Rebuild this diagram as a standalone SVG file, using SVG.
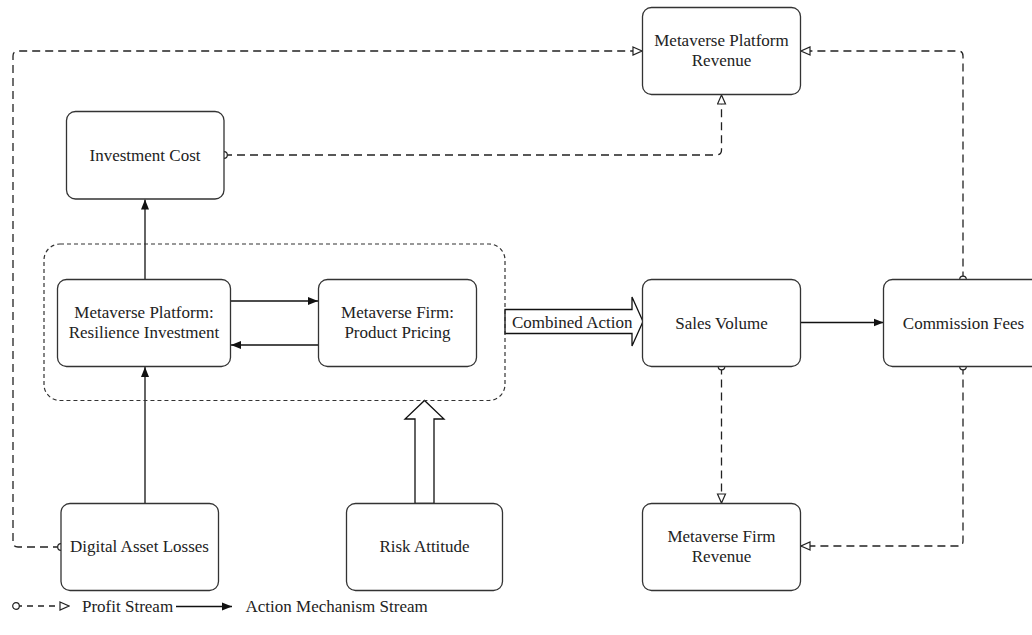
<svg xmlns="http://www.w3.org/2000/svg" width="1032" height="635" viewBox="0 0 1032 635">
<style>
.box{fill:#fff;stroke:#333;stroke-width:1.3}
.t{font-family:"Liberation Serif","Times New Roman",serif;font-size:17px;fill:#222;text-anchor:middle}
.tl{font-family:"Liberation Serif","Times New Roman",serif;font-size:17px;fill:#222}
.solid{fill:none;stroke:#111;stroke-width:1.3}
.dash{fill:none;stroke:#222;stroke-width:1.3;stroke-dasharray:8,5}
.group{fill:none;stroke:#333;stroke-width:1.2;stroke-dasharray:4,3}
.fat{fill:#fff;stroke:#111;stroke-width:1.3}
</style>
<defs>
<marker id="aSolid" markerUnits="userSpaceOnUse" markerWidth="11" markerHeight="9" refX="10" refY="4.5" orient="auto">
<path d="M0,0.5 L10,4.5 L0,8.5 z" fill="#111"/>
</marker>
<marker id="aHollow" markerUnits="userSpaceOnUse" markerWidth="11" markerHeight="11" refX="10" refY="5" orient="auto">
<path d="M1,1 L10,5 L1,9 z" fill="#fff" stroke="#222" stroke-width="1.2"/>
</marker>
<marker id="dot" markerUnits="userSpaceOnUse" markerWidth="10" markerHeight="10" refX="5" refY="5" orient="auto">
<circle cx="5" cy="5" r="3.3" fill="#fff" stroke="#222" stroke-width="1.2"/>
</marker>
</defs>

<g id="connectors">
<path class="dash" d="M61,547 H18 Q13,547 13,542 V56 Q13,51 18,51 H642" marker-start="url(#dot)" marker-end="url(#aHollow)"/>
<path class="dash" d="M224,155 H716 Q721.5,155 721.5,150 V95" marker-start="url(#dot)" marker-end="url(#aHollow)"/>
<path class="dash" d="M963,279.5 V56 Q963,51 958,51 H801" marker-start="url(#dot)" marker-end="url(#aHollow)"/>
<path class="dash" d="M721.5,366.5 V503" marker-start="url(#dot)" marker-end="url(#aHollow)"/>
<path class="dash" d="M963,366.5 V541 Q963,546 958,546 H801" marker-start="url(#dot)" marker-end="url(#aHollow)"/>
<path class="solid" d="M145,279.5 V199.5" marker-end="url(#aSolid)"/>
<path class="solid" d="M145,503.5 V367" marker-end="url(#aSolid)"/>
<path class="solid" d="M230.5,301 H318" marker-end="url(#aSolid)"/>
<path class="solid" d="M318.5,345 H231" marker-end="url(#aSolid)"/>
<path class="solid" d="M800.5,322.5 H883.5" marker-end="url(#aSolid)"/>
<path id="combined-action" class="fat" d="M505,309.5 H632 V297 L643,321.5 L632,346 V333.5 H505 Z"/>
<text class="tl" x="512" y="327.5">Combined Action</text>
<path id="risk-arrow" class="fat" d="M415,503.5 V419 H405 L424.5,400.5 L444,419 H434 V503.5 Z"/>
</g>

<rect id="decision-group" class="group" x="44" y="244" width="461" height="156.5" rx="16"/>

<g id="mp-revenue">
<rect class="box" x="642.5" y="7.5" width="158" height="87" rx="9"/>
<text class="t" x="721.5" y="46">Metaverse Platform</text>
<text class="t" x="721.5" y="66">Revenue</text>
</g>
<g id="investment-cost">
<rect class="box" x="66.5" y="111.5" width="157.5" height="87.5" rx="9"/>
<text class="t" x="145" y="161">Investment Cost</text>
</g>
<g id="resilience-investment">
<rect class="box" x="57.5" y="279.5" width="173" height="87" rx="9"/>
<text class="t" x="144" y="318">Metaverse Platform:</text>
<text class="t" x="144" y="338">Resilience Investment</text>
</g>
<g id="product-pricing">
<rect class="box" x="318.5" y="279.5" width="158" height="87" rx="9"/>
<text class="t" x="397.5" y="318">Metaverse Firm:</text>
<text class="t" x="397.5" y="338">Product Pricing</text>
</g>
<g id="sales-volume">
<rect class="box" x="642.5" y="279.5" width="158" height="87" rx="9"/>
<text class="t" x="721.5" y="328.5">Sales Volume</text>
</g>
<g id="commission-fees">
<rect class="box" x="883.5" y="279.5" width="160" height="87" rx="9"/>
<text class="t" x="963.5" y="328.5">Commission Fees</text>
</g>
<g id="digital-asset-losses">
<rect class="box" x="61" y="503.5" width="157.5" height="87" rx="9"/>
<text class="t" x="139.5" y="552">Digital Asset Losses</text>
</g>
<g id="risk-attitude">
<rect class="box" x="346.5" y="503.5" width="156" height="87" rx="9"/>
<text class="t" x="424.5" y="552">Risk Attitude</text>
</g>
<g id="mf-revenue">
<rect class="box" x="642.5" y="503.5" width="158" height="87" rx="9"/>
<text class="t" x="721.5" y="542">Metaverse Firm</text>
<text class="t" x="721.5" y="562">Revenue</text>
</g>

<g id="legend">
<path class="dash" style="stroke-dasharray:6,5" d="M16,606 H69" marker-start="url(#dot)" marker-end="url(#aHollow)"/>
<text class="tl" x="82" y="612">Profit Stream</text>
<path class="solid" d="M176,606.5 H232" marker-end="url(#aSolid)"/>
<text class="tl" x="245.5" y="612">Action Mechanism Stream</text>
</g>
</svg>
